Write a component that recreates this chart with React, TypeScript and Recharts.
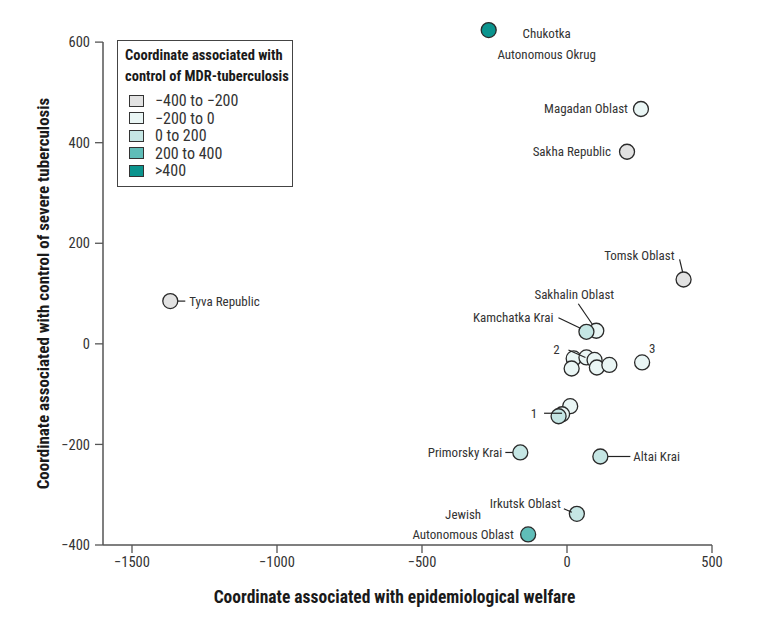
import React from 'react';
import { ScatterChart, Scatter, XAxis, YAxis, ReferenceLine } from 'recharts';

const FONT = "'Roboto Condensed', 'DejaVu Sans Condensed', 'DejaVu Sans', sans-serif";
const COND: React.CSSProperties = { fontStretch: 'condensed' };

// ---------- data ----------
const regionNames = [
  'Chukotka Autonomous Okrug',
  'Magadan Oblast',
  'Sakha Republic',
  'Tomsk Oblast',
  'Tyva Republic',
  'Sakhalin Oblast',
  'Kamchatka Krai',
  'Cluster 2 a',
  'Cluster 2 b',
  'Cluster 2 c',
  'Cluster 2 d',
  'Cluster 2 e',
  'Cluster 2 f',
  'Region 3',
  'Cluster 1 a',
  'Cluster 1 b',
  'Cluster 1 c',
  'Primorsky Krai',
  'Altai Krai',
  'Irkutsk Oblast',
  'Jewish Autonomous Oblast',
];

const pointLabels = [
  'Chukotka|Autonomous Okrug',
  'Magadan Oblast',
  'Sakha Republic',
  'Tomsk Oblast',
  'Tyva Republic',
  'Sakhalin Oblast',
  'Kamchatka Krai',
  '',
  '2',
  '',
  '',
  '',
  '',
  '3',
  '',
  '1',
  '',
  'Primorsky Krai',
  'Altai Krai',
  'Irkutsk Oblast',
  'Jewish|Autonomous Oblast',
];

// Coordinate associated with epidemiological welfare
const welfareCoord = [-270, 255, 207, 402, -1368, 101, 67, 23, 67, 95, 16, 103, 146, 259, 11, -17, -29, -161, 115, 34, -134];
// Coordinate associated with control of severe tuberculosis
const severeTbCoord = [624, 467, 382, 128, 85, 26, 24, -29, -27, -32, -49, -47, -42, -37, -124, -140, -144, -216, -224, -338, -379];
// Bin of coordinate associated with control of MDR-tuberculosis (index into binLabels)
const mdrBinIndex = [4, 1, 0, 0, 0, 1, 2, 1, 1, 1, 1, 1, 1, 1, 1, 1, 2, 2, 2, 2, 3];

const binLabels = ['\u2212400 to \u2212200', '\u2212200 to 0', '0 to 200', '200 to 400', '>400'];
const binColors = ['#e2e2e2', '#eaf6f5', '#c5e6e4', '#5fbdb8', '#0b948e'];

const xTicks = [-1500, -1000, -500, 0, 500];
const yTicks = [-400, -200, 0, 200, 400, 600];

// ---------- annotation layout (pixel offsets from the point) ----------
type Lay = { anchor: 'start' | 'middle' | 'end'; dx: number; dys: number[]; leader?: number[] };
const labelLayout: Record<string, Lay> = {
  'Chukotka|Autonomous Okrug': { anchor: 'middle', dx: 58, dys: [3, 24] },
  'Magadan Oblast': { anchor: 'end', dx: -13, dys: [0] },
  'Sakha Republic': { anchor: 'end', dx: -16, dys: [0] },
  'Tomsk Oblast': { anchor: 'end', dx: -9, dys: [-24], leader: [-4, -20, -1, -7.5] },
  'Tyva Republic': { anchor: 'start', dx: 19, dys: [0], leader: [7.5, 0, 15, 0] },
  'Sakhalin Oblast': { anchor: 'middle', dx: -22, dys: [-36], leader: [-18, -27, -4, -6.5] },
  'Kamchatka Krai': { anchor: 'end', dx: -33, dys: [-14], leader: [-28, -14, -6, -3.5] },
  '2': { anchor: 'middle', dx: -30, dys: [-8], leader: [-18, -7.5, -1, 0] },
  '3': { anchor: 'middle', dx: 10, dys: [-14] },
  '1': { anchor: 'middle', dx: -28, dys: [-1], leader: [-18, -1, 0, -1] },
  'Primorsky Krai': { anchor: 'end', dx: -18, dys: [0], leader: [-15, 0, -7.5, 0] },
  'Altai Krai': { anchor: 'start', dx: 33, dys: [0], leader: [7.5, 0, 30, 0] },
  'Irkutsk Oblast': { anchor: 'end', dx: -16, dys: [-10], leader: [-13, -5, -5, -1.5] },
  'Jewish|Autonomous Oblast': { anchor: 'middle', dx: -65, dys: [-20, 0] },
};

const data = regionNames.map((name, i) => ({
  name,
  x: welfareCoord[i],
  y: severeTbCoord[i],
  bin: mdrBinIndex[i],
  label: pointLabels[i],
}));

const TEXT_COLOR = '#333';
const AXIS_COLOR = '#555';

const CircleShape = (props: any) => {
  const { cx, cy, payload } = props;
  return (
    <circle cx={cx} cy={cy} r={7.5} fill={binColors[payload.bin]} stroke="#2a2a2a" strokeWidth={1.3} />
  );
};

const LabelShape = (props: any) => {
  const { cx, cy, payload } = props;
  const text: string = payload.label;
  if (!text) return <g />;
  const lay = labelLayout[text];
  if (!lay) return <g />;
  const lines = text.split('|');
  return (
    <g>
      {lay.leader && (
        <line
          x1={cx + lay.leader[0]}
          y1={cy + lay.leader[1]}
          x2={cx + lay.leader[2]}
          y2={cy + lay.leader[3]}
          stroke="#222"
          strokeWidth={1.2}
        />
      )}
      {lines.map((ln, k) => (
        <text
          key={k}
          x={cx + lay.dx}
          y={cy + lay.dys[k]}
          textAnchor={lay.anchor}
          dominantBaseline="central"
          fontFamily={FONT}
          fontSize={13}
          fill={TEXT_COLOR}
          style={COND}
        >
          {ln}
        </text>
      ))}
    </g>
  );
};

const fmt = (v: number) => (v < 0 ? '\u2212' + Math.abs(v) : String(v));

const XTitle = (props: any) => {
  const vb = props.viewBox;
  return (
    <text
      x={vb.x + vb.width / 2 - 13}
      y={vb.y + 58}
      textAnchor="middle"
      fontFamily={FONT}
      fontWeight="bold"
      fontSize={17.5}
      fill="#1a1a1a"
      style={COND}
    >
      Coordinate associated with epidemiological welfare
    </text>
  );
};

const YTitle = (props: any) => {
  const vb = props.viewBox;
  const cx = vb.x + 6;
  const cy = vb.y + vb.height / 2 + 10;
  return (
    <text
      x={cx}
      y={cy}
      transform={`rotate(-90, ${cx}, ${cy})`}
      textAnchor="middle"
      fontFamily={FONT}
      fontWeight="bold"
      fontSize={17}
      fill="#1a1a1a"
      style={COND}
    >
      Coordinate associated with control of severe tuberculosis
    </text>
  );
};

const LegendBox = () => (
  <div
    style={{
      position: 'absolute',
      left: 109,
      top: 32,
      width: 176,
      height: 147,
      border: '1.5px solid #444',
      background: '#fff',
      fontFamily: FONT,
      fontStretch: 'condensed',
      color: TEXT_COLOR,
      boxSizing: 'border-box',
      padding: '4px 0 0 7px',
      whiteSpace: 'nowrap',
    }}
  >
    <div style={{ fontWeight: 'bold', fontSize: 14.5, lineHeight: '21px', color: '#1a1a1a' }}>
      Coordinate associated with
      <br />
      control of MDR-tuberculosis
    </div>
    <div style={{ marginTop: 5 }}>
      {binLabels.map((lab, i) => (
        <div key={lab} style={{ display: 'flex', alignItems: 'center', height: 17.5 }}>
          <span
            style={{
              display: 'inline-block',
              width: 13,
              height: 10,
              background: binColors[i],
              border: '1.2px solid #333',
              marginLeft: 4,
              marginRight: 11,
            }}
          />
          <span style={{ fontSize: 16 }}>{lab}</span>
        </div>
      ))}
    </div>
  </div>
);

const tickStyle = { fill: TEXT_COLOR, fontSize: 14.5, fontFamily: FONT, style: COND };

export default function App() {
  return (
    <div style={{ position: 'relative', width: 755, height: 609 }}>
      <ScatterChart width={755} height={609} margin={{ top: 14, right: 51, bottom: 42, left: 35 }}>
        <XAxis
          type="number"
          dataKey="x"
          domain={[-1600, 500]}
          ticks={xTicks}
          tickFormatter={fmt}
          axisLine={false}
          tickSize={8}
          tickMargin={4}
          height={30}
          tickLine={{ stroke: AXIS_COLOR, strokeWidth: 1.3 }}
          tick={tickStyle}
          label={{ content: XTitle }}
        />
        <YAxis
          type="number"
          dataKey="y"
          domain={[-400, 640]}
          ticks={yTicks}
          tickFormatter={fmt}
          axisLine={false}
          tickSize={8}
          tickMargin={5}
          width={60}
          tickLine={{ stroke: AXIS_COLOR, strokeWidth: 1.3 }}
          tick={tickStyle}
          label={{ content: YTitle }}
        />
        <ReferenceLine
          segment={[{ x: -1600, y: -400 }, { x: 500, y: -400 }]}
          stroke={AXIS_COLOR}
          strokeWidth={1.5}
        />
        <ReferenceLine
          segment={[{ x: -1600, y: -400 }, { x: -1600, y: 600 }]}
          stroke={AXIS_COLOR}
          strokeWidth={1.5}
        />
        <Scatter data={data} shape={CircleShape} isAnimationActive={false} />
        <Scatter data={data} shape={LabelShape} isAnimationActive={false} />
      </ScatterChart>
      <LegendBox />
    </div>
  );
}
